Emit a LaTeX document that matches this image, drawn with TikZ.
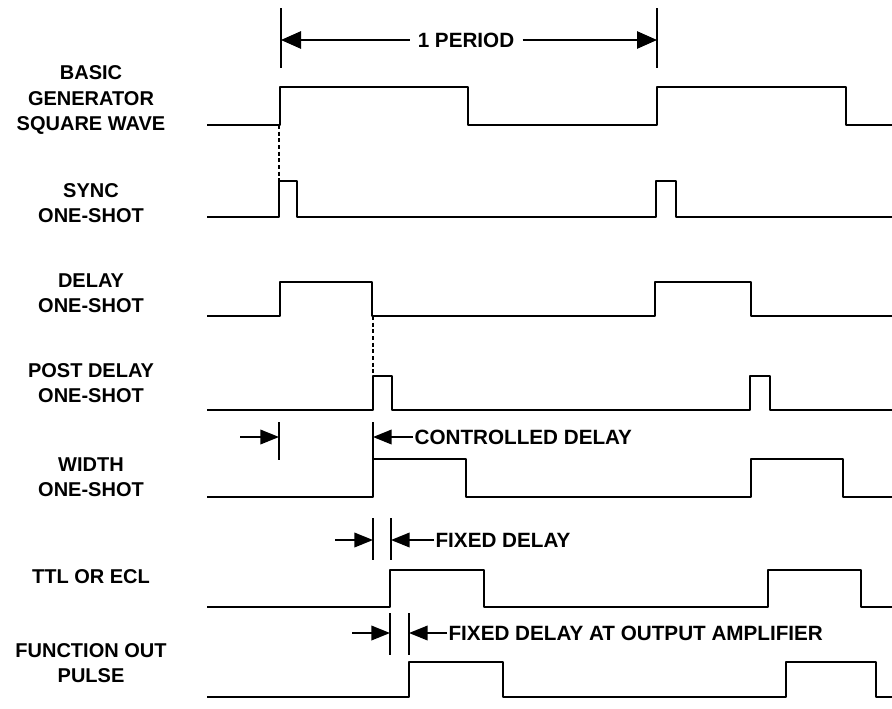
\documentclass[tikz,border=0pt]{standalone}
\usepackage{fontspec}
\setmainfont{Liberation Sans}
\usetikzlibrary{arrows.meta}

\begin{document}
\begin{tikzpicture}[x=0.75pt,y=-0.75pt,
    wave/.style={line width=1.4pt,line join=round},
    tick/.style={line width=1.3pt},
    dim/.style={line width=1.2pt,-{Triangle[length=14pt,width=11pt]}},
    lbl/.style={align=center,inner sep=0pt,font=\bfseries\fontsize{15}{19}\selectfont},
    txt/.style={anchor=west,inner sep=1pt,font=\bfseries\fontsize{15.5}{17}\selectfont}]
  \useasboundingbox (0,0) rectangle (892,708);

  \node[lbl] (basic) at (91,100) {BASIC\\GENERATOR\\SQUARE WAVE};
  \node[lbl] (sync) at (91,203) {SYNC\\ONE-SHOT};
  \node[lbl] (delay) at (91,293) {DELAY\\ONE-SHOT};
  \node[lbl] (post) at (91,383) {POST DELAY\\ONE-SHOT};
  \node[lbl] (width) at (91,477) {WIDTH\\ONE-SHOT};
  \node[lbl] (ttl) at (91,577) {TTL OR ECL};
  \node[lbl] (func) at (91,663) {FUNCTION OUT\\PULSE};

  \draw[wave] (207,125) -| (280,87) -| (468,125) -| (657,87) -| (846,125) -- (892,125);
  \draw[wave] (207,217) -| (279,181) -| (297,217) -| (656,181) -| (676,217) -- (892,217);
  \draw[wave] (207,316) -| (280,282) -| (372,316) -| (655,282) -| (751,316) -- (892,316);
  \draw[wave] (207,410) -| (373,376) -| (392,410) -| (750,376) -| (770,410) -- (892,410);
  \draw[wave] (207,497) -| (373,459) -| (466,497) -| (751,459) -| (843,497) -- (892,497);
  \draw[wave] (207,607) -| (390,570) -| (484,607) -| (768,570) -| (861,607) -- (892,607);
  \draw[wave] (207,697) -| (409,662) -| (503,697) -| (786,662) -| (876,697) -- (892,697);

  \draw[line width=1pt,dash pattern=on 3pt off 2pt] (279,125) -- (279,181);
  \draw[line width=1pt,dash pattern=on 3pt off 2pt] (373,316) -- (373,376);

  \draw[tick] (281,8) -- (281,68);
  \draw[tick] (657,8) -- (657,68);
  \node[txt,anchor=center,inner sep=6pt] (period) at (466,40) {1 PERIOD};
  \coordinate (perL) at (281,40);
  \coordinate (perR) at (657,40);
  \draw[dim,-{Triangle[length=15pt,width=13pt]}] (period.west) -- (perL);
  \draw[dim,-{Triangle[length=15pt,width=13pt]}] (period.east) -- (perR);

  \draw[tick] (279,422) -- (279,460);
  \draw[tick] (373,422) -- (373,460);
  \coordinate (cdA) at (240,437);
  \coordinate (cdB) at (279,437);
  \coordinate (cdC) at (373,437);
  \node[txt] (cd) at (413,437) {CONTROLLED DELAY};
  \draw[dim] (cdA) -- (cdB);
  \draw[dim] (cd.west) -- (cdC);

  \draw[tick] (373,518) -- (373,560);
  \draw[tick] (391,518) -- (391,560);
  \coordinate (fdA) at (335,540);
  \coordinate (fdB) at (373,540);
  \coordinate (fdC) at (391,540);
  \node[txt] (fd) at (434,540) {FIXED DELAY};
  \draw[dim] (fdA) -- (fdB);
  \draw[dim] (fd.west) -- (fdC);

  \draw[tick] (390,613) -- (390,655);
  \draw[tick] (409,613) -- (409,655);
  \coordinate (oaA) at (352,633);
  \coordinate (oaB) at (390,633);
  \coordinate (oaC) at (409,633);
  \node[txt] (oa) at (447,633) {FIXED DELAY AT OUTPUT AMPLIFIER};
  \draw[dim] (oaA) -- (oaB);
  \draw[dim] (oa.west) -- (oaC);
\end{tikzpicture}
\end{document}
